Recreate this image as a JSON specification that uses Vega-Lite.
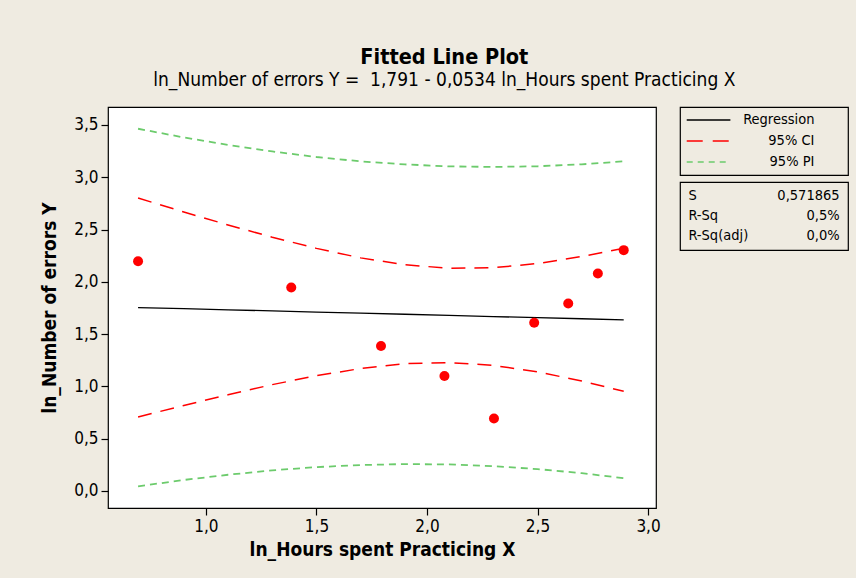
{
  "$schema": "https://vega.github.io/schema/vega-lite/v6.json",
  "background": "#EFEBE1",
  "padding": {"left": 40, "top": 46, "right": 8, "bottom": 18},
  "title": {
    "text": "Fitted Line Plot",
    "subtitle": "ln_Number of errors Y =\u00a0 1,791 - 0,0534 ln_Hours spent Practicing X",
    "anchor": "middle",
    "font": "DejaVu Sans Condensed, Liberation Sans Narrow, sans-serif",
    "fontSize": 21.5,
    "fontWeight": "bold",
    "color": "black",
    "subtitleFont": "DejaVu Sans Condensed, Liberation Sans Narrow, sans-serif",
    "subtitleFontSize": 19,
    "subtitleColor": "black",
    "subtitlePadding": 3,
    "offset": 16
  },
  "datasets": {
    "points": [
      {"x": 0.693, "y": 2.197},
      {"x": 1.386, "y": 1.946},
      {"x": 1.792, "y": 1.386},
      {"x": 2.079, "y": 1.099},
      {"x": 2.303, "y": 0.693},
      {"x": 2.485, "y": 1.609},
      {"x": 2.639, "y": 1.792},
      {"x": 2.773, "y": 2.079},
      {"x": 2.890, "y": 2.303}
    ],
    "curves": [
      {"x": 0.693, "fit": 1.754, "ciL": 0.707, "ciU": 2.801, "piL": 0.044, "piU": 3.464},
      {"x": 0.9, "fit": 1.743, "ciL": 0.818, "ciU": 2.668, "piL": 0.105, "piU": 3.381},
      {"x": 1.1, "fit": 1.732, "ciL": 0.920, "ciU": 2.544, "piL": 0.155, "piU": 3.309},
      {"x": 1.3, "fit": 1.722, "ciL": 1.017, "ciU": 2.427, "piL": 0.197, "piU": 3.247},
      {"x": 1.5, "fit": 1.711, "ciL": 1.102, "ciU": 2.320, "piL": 0.228, "piU": 3.194},
      {"x": 1.7, "fit": 1.700, "ciL": 1.171, "ciU": 2.229, "piL": 0.248, "piU": 3.152},
      {"x": 1.9, "fit": 1.690, "ciL": 1.217, "ciU": 2.163, "piL": 0.257, "piU": 3.123},
      {"x": 2.1, "fit": 1.679, "ciL": 1.228, "ciU": 2.130, "piL": 0.254, "piU": 3.104},
      {"x": 2.3, "fit": 1.668, "ciL": 1.201, "ciU": 2.135, "piL": 0.237, "piU": 3.099},
      {"x": 2.5, "fit": 1.657, "ciL": 1.139, "ciU": 2.175, "piL": 0.209, "piU": 3.105},
      {"x": 2.7, "fit": 1.647, "ciL": 1.052, "ciU": 2.242, "piL": 0.170, "piU": 3.124},
      {"x": 2.89, "fit": 1.637, "ciL": 0.953, "ciU": 2.321, "piL": 0.122, "piU": 3.152}
    ],
    "legendItems": [
      {"item": "Regression"},
      {"item": "95% CI"},
      {"item": "95% PI"}
    ],
    "stats": [
      {"stat": "S", "value": "0,571865"},
      {"stat": "R-Sq", "value": "0,5%"},
      {"stat": "R-Sq(adj)", "value": "0,0%"}
    ]
  },
  "spacing": 18,
  "hconcat": [
    {
      "width": 548,
      "height": 401,
      "view": {"fill": "white", "stroke": "black", "strokeWidth": 1.2},
      "encoding": {
        "x": {
          "type": "quantitative",
          "scale": {"domain": [0.557, 3.036], "nice": false, "zero": false},
          "axis": {
            "title": "ln_Hours spent Practicing X",
            "values": [1, 1.5, 2, 2.5, 3],
            "labelExpr": "replace(format(datum.value, '.1f'), '.', ',')"
          }
        },
        "y": {
          "type": "quantitative",
          "scale": {"domain": [-0.163, 3.672], "nice": false, "zero": false},
          "axis": {
            "title": "ln_Number of errors Y",
            "values": [0, 0.5, 1, 1.5, 2, 2.5, 3, 3.5],
            "labelExpr": "replace(format(datum.value, '.1f'), '.', ',')"
          }
        }
      },
      "layer": [
        {
          "data": {"name": "curves"},
          "mark": {"type": "line", "color": "#6CCB6C", "strokeWidth": 1.8, "strokeDash": [7, 5]},
          "encoding": {"x": {"field": "x"}, "y": {"field": "piU"}}
        },
        {
          "data": {"name": "curves"},
          "mark": {"type": "line", "color": "#6CCB6C", "strokeWidth": 1.8, "strokeDash": [7, 5]},
          "encoding": {"x": {"field": "x"}, "y": {"field": "piL"}}
        },
        {
          "data": {"name": "curves"},
          "mark": {"type": "line", "color": "#FF0000", "strokeWidth": 1.5, "strokeDash": [14, 9]},
          "encoding": {"x": {"field": "x"}, "y": {"field": "ciU"}}
        },
        {
          "data": {"name": "curves"},
          "mark": {"type": "line", "color": "#FF0000", "strokeWidth": 1.5, "strokeDash": [14, 9]},
          "encoding": {"x": {"field": "x"}, "y": {"field": "ciL"}}
        },
        {
          "data": {"name": "curves"},
          "mark": {"type": "line", "color": "black", "strokeWidth": 1.3},
          "encoding": {"x": {"field": "x"}, "y": {"field": "fit"}}
        },
        {
          "data": {"name": "points"},
          "mark": {"type": "circle", "color": "#FF0000", "opacity": 1, "size": 100},
          "encoding": {"x": {"field": "x"}, "y": {"field": "y"}}
        }
      ]
    },
    {
      "spacing": 5,
      "vconcat": [
        {
          "width": 168,
          "height": 68,
          "view": {"fill": null, "stroke": "black", "strokeWidth": 1.2},
          "data": {"name": "legendItems"},
          "encoding": {
            "y": {
              "field": "item",
              "type": "nominal",
              "sort": null,
              "axis": null,
              "scale": {"type": "point", "padding": 0.62}
            }
          },
          "layer": [
            {
              "mark": {"type": "rule", "strokeWidth": 1.5},
              "encoding": {
                "x": {"datum": 0.04, "type": "quantitative", "scale": {"domain": [0, 1], "nice": false}, "axis": null},
                "x2": {"datum": 0.3},
                "color": {
                  "field": "item",
                  "type": "nominal",
                  "scale": {"domain": ["Regression", "95% CI", "95% PI"], "range": ["black", "#FF0000", "#6CCB6C"]},
                  "legend": null
                },
                "strokeDash": {
                  "field": "item",
                  "type": "nominal",
                  "scale": {"domain": ["Regression", "95% CI", "95% PI"], "range": [[1, 0], [16, 10], [6, 5]]},
                  "legend": null
                }
              }
            },
            {
              "mark": {"type": "text", "align": "right", "baseline": "middle", "fontSize": 14.5, "font": "DejaVu Sans Condensed, Liberation Sans Narrow, sans-serif", "color": "black"},
              "encoding": {
                "x": {"datum": 0.80, "type": "quantitative", "scale": {"domain": [0, 1], "nice": false}, "axis": null},
                "text": {"field": "item"}
              }
            }
          ]
        },
        {
          "width": 168,
          "height": 68,
          "view": {"fill": null, "stroke": "black", "strokeWidth": 1.2},
          "data": {"name": "stats"},
          "encoding": {
            "y": {
              "field": "stat",
              "type": "nominal",
              "sort": null,
              "axis": null,
              "scale": {"type": "point", "padding": 0.7}
            }
          },
          "layer": [
            {
              "mark": {"type": "text", "align": "left", "baseline": "middle", "fontSize": 14.5, "font": "DejaVu Sans Condensed, Liberation Sans Narrow, sans-serif", "color": "black"},
              "encoding": {
                "x": {"datum": 0.05, "type": "quantitative", "scale": {"domain": [0, 1], "nice": false}, "axis": null},
                "text": {"field": "stat"}
              }
            },
            {
              "mark": {"type": "text", "align": "right", "baseline": "middle", "fontSize": 14.5, "font": "DejaVu Sans Condensed, Liberation Sans Narrow, sans-serif", "color": "black"},
              "encoding": {
                "x": {"datum": 0.95, "type": "quantitative", "scale": {"domain": [0, 1], "nice": false}, "axis": null},
                "text": {"field": "value"}
              }
            }
          ]
        }
      ]
    }
  ],
  "config": {
    "font": "DejaVu Sans Condensed, Liberation Sans Narrow, sans-serif",
    "axis": {
      "domain": false,
      "grid": false,
      "ticks": true,
      "tickColor": "black",
      "tickSize": 7,
      "tickWidth": 1.2,
      "labelFont": "DejaVu Sans Condensed, Liberation Sans Narrow, sans-serif",
      "labelFontSize": 17,
      "labelColor": "black",
      "labelPadding": 3,
      "titleFont": "DejaVu Sans Condensed, Liberation Sans Narrow, sans-serif",
      "titleFontSize": 19,
      "titleFontWeight": "bold",
      "titleColor": "black"
    },
    "axisX": {"titlePadding": 6},
    "axisY": {"titlePadding": 14}
  }
}
